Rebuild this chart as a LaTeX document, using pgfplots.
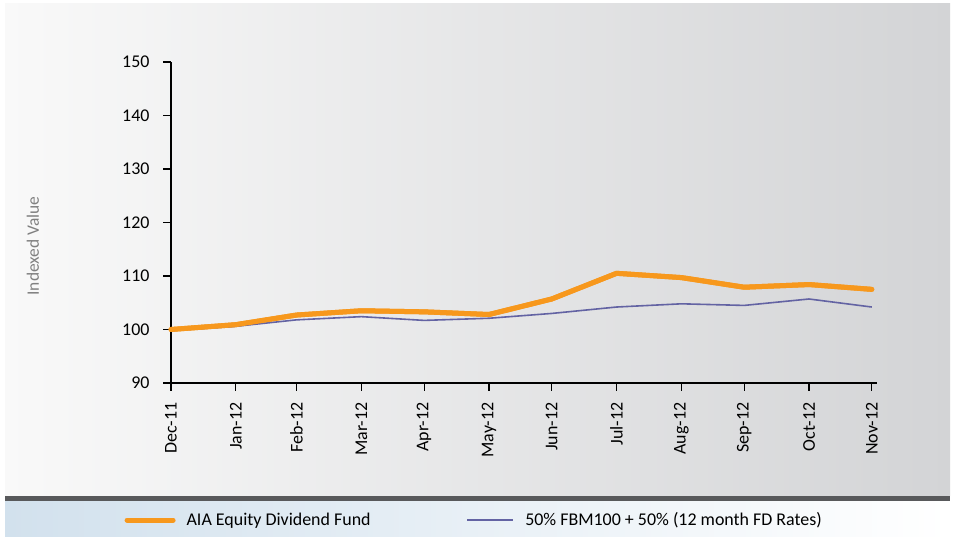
\documentclass[border=0pt]{standalone}
\usepackage{fontspec}
\setmainfont{Carlito}
\usepackage{pgfplots}
\pgfplotsset{compat=1.18}
\usepackage{pgfplotstable}
\definecolor{aiaorange}{HTML}{F7981D}
\definecolor{benchblue}{HTML}{6363A3}
\definecolor{darkbar}{HTML}{58595B}
\definecolor{panelL}{HTML}{F9F9F9}
\definecolor{panelR}{HTML}{D3D4D6}
\definecolor{legL}{HTML}{D2E1ED}
\pgfplotstableread{
day fund bench
0 100.0 99.8
31 100.9 100.6
60 102.7 101.8
91 103.5 102.4
121 103.3 101.7
152 102.8 102.1
182 105.7 103.0
213 110.5 104.2
244 109.7 104.8
274 107.9 104.5
305 108.4 105.7
335 107.5 104.2
}\datatable
\begin{document}
\begin{tikzpicture}[x=1bp,y=1bp]
\useasboundingbox (0,0) rectangle (953,537);
\fill[white] (0,0) rectangle (953,537);
\shade[left color=panelL,right color=panelR] (5,41) rectangle (950,533);
\fill[darkbar] (5,35) rectangle (950,41);
\shade[left color=legL,right color=white] (5,0) rectangle (950,35);
\begin{axis}[
  at={(171bp,154bp)}, anchor=south west,
  scale only axis, width=706bp, height=321bp,
  xmin=0, xmax=337.5, ymin=90, ymax=150,
  ytick={90,100,...,150},
  xtick={0,31,60,91,121,152,182,213,244,274,305,335},
  xticklabels={Dec-11,Jan-12,Feb-12,Mar-12,Apr-12,May-12,Jun-12,Jul-12,Aug-12,Sep-12,Oct-12,Nov-12},
  axis lines=left,
  axis line style={-, black, line width=1.2bp},
  tick style={black, line width=1.2bp},
  tick align=outside, major tick length=8bp,
  minor tick num=0,
  /pgf/number format/assume math mode=true,
  ticklabel style={font=\fontsize{18}{21}\selectfont, text=black},
  xticklabel style={yshift=-8bp, rotate=90, anchor=east},
  yticklabel style={xshift=-10bp, anchor=east},
  ylabel={Indexed Value},
  every axis y label/.style={at={(axis description cs:-0.1955,0.4268)}, rotate=90, anchor=center, font=\fontsize{17.5}{20}\selectfont, text=black!50},
  legend style={at={(axis description cs:0.4295,-0.4268)}, anchor=center, draw=none, fill=none,
    legend columns=2, font=\fontsize{18}{21}\selectfont,
    /tikz/every even column/.append style={column sep=94bp}},
  legend image code/.code={\draw[#1] (0bp,0bp) -- (46bp,0bp); \path (55bp,0bp);},
  clip=false,
]
\addplot[aiaorange, line width=5bp, line join=round, line cap=round] table[x=day,y=fund] {\datatable};
\addlegendentry{AIA Equity Dividend Fund}
\addplot[benchblue, line width=1.6bp, line join=round] table[x=day,y=bench] {\datatable};
\addlegendentry{50\% FBM100 + 50\% (12 month FD Rates)}
\addplot[aiaorange, line width=5bp, line join=round, line cap=round, forget plot] table[x=day,y=fund] {\datatable};
\end{axis}
\end{tikzpicture}
\end{document}
